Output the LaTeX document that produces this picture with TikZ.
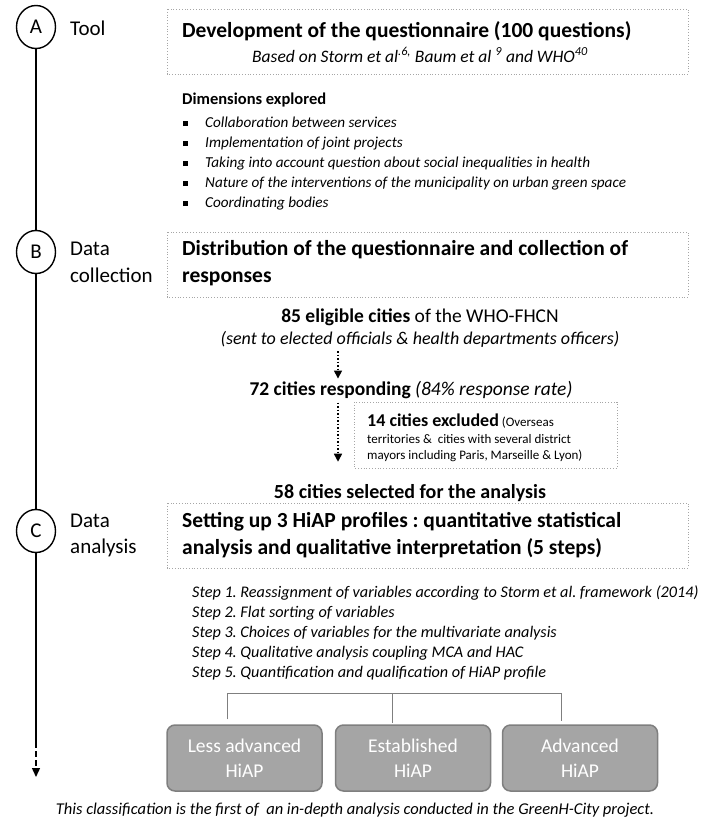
\documentclass[tikz,border=0pt]{standalone}
\usepackage{fontspec}
\setmainfont{Carlito}
\usetikzlibrary{arrows.meta,shapes.geometric,calc}
\newcommand{\fs}[1]{\fontsize{#1}{#1}\selectfont}
\frenchspacing
\definecolor{boxfill}{HTML}{A5A5A5}
\definecolor{boxline}{HTML}{7F7F7F}
\begin{document}
\begin{tikzpicture}[x=1pt,y=-1pt,
  stage/.style={draw,line width=1.4pt,ellipse,minimum width=39pt,minimum height=43pt,inner sep=0pt,font=\fs{21}},
  lbl/.style={anchor=base west,inner sep=0pt,font=\fs{21}},
  dbox/.style={draw=gray!70,dotted,line width=0.8pt},
  timeline/.style={line width=1.4pt},
  dotarrow/.style={dotted,line width=1.5pt,-{Triangle[length=8pt,width=8pt]}},
  hbox/.style={draw=boxline,fill=boxfill,line width=1.5pt,rounded corners=8pt,minimum width=155pt,minimum height=66pt,align=center,text=white,font=\fs{19.5},inner sep=0pt},
  tree/.style={draw=boxline,line width=1pt},
  txt/.style={inner sep=0pt,align=left},
  boxtext/.style={txt,anchor=base west,font=\bfseries\fs{21.5}}]
\useasboundingbox (0,0) rectangle (706,822);

% stages
\node[stage] (A) at (36,27) {A};
\node[lbl] (tool) at (70,35) {Tool};
\node[stage] (B) at (36,252) {B};
\node[lbl] (dc1) at (70,255) {Data};
\node[lbl] (dc2) at (70,282) {collection};
\node[stage] (C) at (36,531) {C};
\node[lbl] (da1) at (70,527) {Data};
\node[lbl] (da2) at (70,553) {analysis};
\coordinate (tend) at (36,742);
\coordinate (tarr) at (36,777);
\draw[timeline] (A) -- (B);
\draw[timeline] (B) -- (C);
\draw[timeline] (C) -- (tend);
\draw[line width=1.4pt,dash pattern=on 6pt off 3pt,-{Triangle[length=9pt,width=8pt]}] (tend) -- (tarr);

% box 1
\draw[dbox] (167,9) rectangle (688,74);
\node[boxtext] (t1) at (182,37) {Development of the questionnaire (100 questions)};
\node[txt,anchor=base,font=\itshape\fs{17.5}] (t1b) at (420,62) {Based on Storm et al\textsuperscript{.6,} Baum et al \textsuperscript{9} and WHO\textsuperscript{40}};

% dimensions
\node[txt,anchor=base west,font=\bfseries\fs{16.5}] (dim) at (182,104) {Dimensions explored};
\foreach \t [count=\i] in {Collaboration between services,Implementation of joint projects,Taking into account question about social inequalities in health,Nature of the interventions of the municipality on urban green space,Coordinating bodies}{
  \node[txt,anchor=base west,font=\fs{15.2}] (d\i) at (183,{107.5+20*\i}) {\makebox[22pt][l]{\rule[1.5pt]{5pt}{5pt}}\textit{\t}};
}

% box 2
\draw[dbox] (167,232) rectangle (688,297);
\node[boxtext] (t2) at (182,255) {Distribution of the questionnaire and collection of};
\node[boxtext] (t2b) at (182,282) {responses};

\node[txt,anchor=base,font=\fs{19.5}] (n85) at (420,322) {\textbf{85 eligible cities} of the WHO-FHCN};
\node[txt,anchor=base,font=\itshape\fs{18}] (sent) at (420,344) {(sent to elected officials \& health departments officers)};
\node[txt,anchor=base,font=\fs{19.5}] (n72) at (411,395) {\textbf{72 cities responding} \textit{(84\% response rate)}};
\node[txt,anchor=base,font=\bfseries\fs{20}] (n58) at (410,498) {58 cities selected for the analysis};

\coordinate (ax) at (338,0);
\draw[dotarrow] ($(sent.south -| ax)+(0,4)$) -- ($(n72.north -| ax)+(0,-2)$);
\draw[dotarrow] ($(n72.south -| ax)+(0,4)$) -- ($(n58.north -| ax)+(0,-22)$);

% excluded box
\draw[dbox] (354,402) rectangle (617,468);
\node[txt,anchor=base west,font=\fs{13}] (ex1) at (367,426) {{\bfseries\fs{18}14 cities excluded} (Overseas};
\node[txt,anchor=base west,font=\fs{13}] (ex2) at (367,443) {territories \&\ \ cities with several district};
\node[txt,anchor=base west,font=\fs{13}] (ex3) at (367,459) {mayors including Paris, Marseille \& Lyon)};

% box 3
\draw[dbox] (167,503) rectangle (688,568);
\node[boxtext] (t3) at (182,527) {Setting up 3 HiAP profiles : quantitative statistical};
\node[boxtext] (t3b) at (182,554) {analysis and qualitative interpretation (5 steps)};

% steps
\foreach \t [count=\i] in {Reassignment of variables according to Storm et al. framework (2014),Flat sorting of variables,Choices of variables for the multivariate analysis,Qualitative analysis coupling MCA and HAC,Quantification and qualification of HiAP profile}{
  \node[txt,anchor=base west,font=\itshape\fs{16.2}] (s\i) at (192,{578+19.8*\i}) {Step \i. \t};
}

% profile boxes
\node[hbox] (p1) at (244.5,758) {Less advanced\\[5pt]HiAP};
\node[hbox] (p2) at (413,758) {Established\\[5pt]HiAP};
\node[hbox] (p3) at (580,758) {Advanced\\[5pt]HiAP};
\coordinate (hl) at (227,693);
\coordinate (hm) at (392,693);
\coordinate (hr) at (561,693);
\draw[tree] ($(p1.north -| hl)+(0,-5)$) -- (hl) -- (hr) -- ($(p3.north -| hr)+(0,-3)$);
\draw[tree] (hm) -- ($(p2.north -| hm)+(0,-1)$);

\node[txt,anchor=base,font=\itshape\fs{16.5}] (foot) at (355,814) {This classification is the first of\ \ an in-depth analysis conducted in the GreenH-City project.};
\end{tikzpicture}
\end{document}
